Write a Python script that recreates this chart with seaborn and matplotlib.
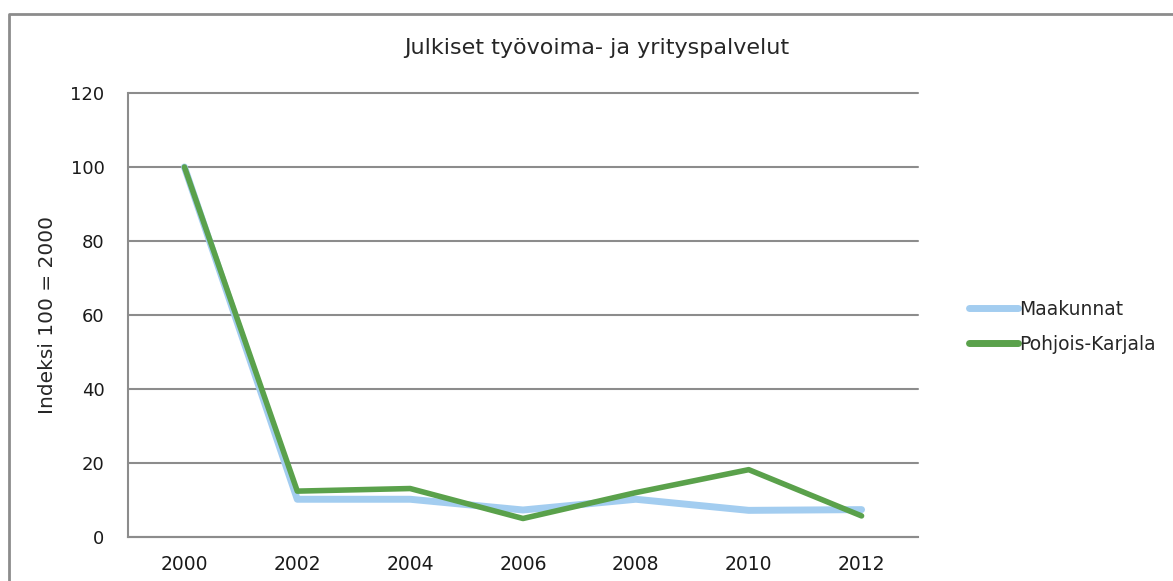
import matplotlib
matplotlib.use("Agg")
import matplotlib.pyplot as plt
from matplotlib.lines import Line2D
import pandas as pd
import seaborn as sns

# Data
years = ["2000", "2002", "2004", "2006", "2008", "2010", "2012"]
maakunnat = [100, 10.2, 10.2, 7.3, 10.2, 7.2, 7.4]
pohjois_karjala = [100, 12.4, 13.1, 5.0, 12.0, 18.2, 5.7]
series_names = ["Maakunnat", "Pohjois-Karjala"]
colors = ["#A3CDF0", "#5AA14B"]

df = pd.DataFrame({
    "vuosi": years * 2,
    "indeksi": maakunnat + pohjois_karjala,
    "sarja": [series_names[0]] * len(years) + [series_names[1]] * len(years),
})

sns.set_style("white")
plt.rcParams["font.family"] = "sans-serif"
plt.rcParams["font.sans-serif"] = ["DejaVu Sans"]

fig = plt.figure(figsize=(11.73, 5.81), dpi=100)
ax = fig.add_axes([128 / 1173, 44 / 581, 790 / 1173, 444 / 581])

sns.lineplot(data=df, x="vuosi", y="indeksi", hue="sarja",
             palette=dict(zip(series_names, colors)), ax=ax,
             linewidth=4, sort=False, legend=False)
for ln, lw in zip(ax.lines, [5, 4]):
    ln.set_linewidth(lw)
    ln.set_solid_capstyle("round")

ax.set_xlim(-0.5, len(years) - 0.5)
ax.set_ylim(0, 120)
ax.set_yticks(range(0, 121, 20))
ax.yaxis.grid(True, color="#8C8C8C", linewidth=1.5)
for gl in ax.get_ygridlines():
    gl.set_clip_on(False)
ax.set_axisbelow(True)
for side in ["top", "right"]:
    ax.spines[side].set_visible(False)
for side in ["left", "bottom"]:
    ax.spines[side].set_color("#8C8C8C")
    ax.spines[side].set_linewidth(1.5)
ax.tick_params(axis="both", length=0, labelsize=13.5, colors="#1a1a1a", pad=13)
ax.tick_params(axis="y", labelsize=13, pad=17)
ax.set_xlabel("")
ax.set_ylabel("Indeksi 100 = 2000", fontsize=14.5)
ax.yaxis.set_label_coords(-(128 - 57) / 790, 0.5)

fig.text(597 / 1173, 1 - 48 / 581, "Julkiset työvoima- ja yrityspalvelut",
         ha="center", va="center", fontsize=16)

handles = [Line2D([0], [0], color=c, linewidth=5, solid_capstyle="round") for c in colors]
fig.legend(handles, series_names, loc="center left",
           bbox_to_anchor=(952 / 1173, 1 - 327 / 581), frameon=False,
           fontsize=13.5, handlelength=2.6, handletextpad=0.1, labelspacing=0.85)

# outer chart border
fig.add_artist(Line2D([9 / 1173, 9 / 1173, 1.01], [-0.01, 1 - 14 / 581, 1 - 14 / 581],
                      transform=fig.transFigure, color="#8C8C8C", linewidth=2))

fig.savefig("out.png", dpi=100)
